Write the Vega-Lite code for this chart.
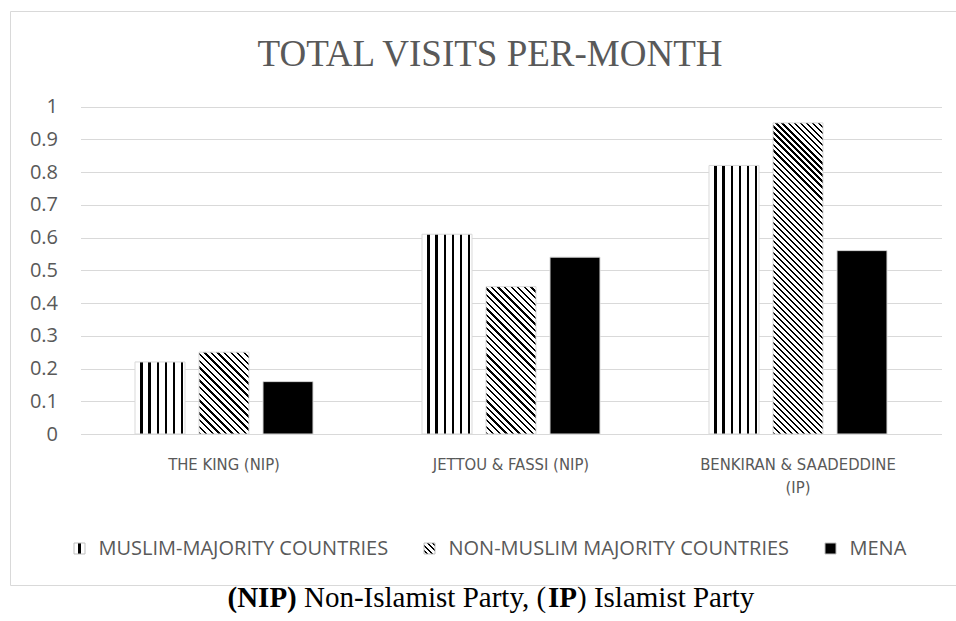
{
  "$schema": "https://vega.github.io/schema/vega-lite/v6.json",
  "background": "white",
  "padding": {"left": 9, "top": 10, "right": 0, "bottom": 0},
  "config": {"font": "Open Sans", "concat": {"spacing": 0}},
  "title": {"text": ") Islamist Party", "orient": "bottom", "anchor": "start", "frame": "group", "font": "Liberation Serif", "fontSize": 29, "fontWeight": "normal", "color": "#000000", "baseline": "top", "offset": 0, "dx": 567, "dy": -29},
  "vconcat": [
    {
      "title": {"text": "IP", "orient": "bottom", "anchor": "start", "frame": "group", "font": "Liberation Serif", "fontSize": 29, "fontWeight": "bold", "color": "#000000", "baseline": "top", "offset": 0, "dx": 538, "dy": -29},
      "vconcat": [
        {
          "title": {"text": "Non-Islamist Party, (", "orient": "bottom", "anchor": "start", "frame": "group", "font": "Liberation Serif", "fontSize": 29, "fontWeight": "normal", "color": "#000000", "baseline": "top", "offset": 0, "dx": 294, "dy": -29},
          "vconcat": [
            {
              "title": {"text": "(NIP)", "orient": "bottom", "anchor": "start", "frame": "group", "font": "Liberation Serif", "fontSize": 29, "fontWeight": "bold", "color": "#000000", "baseline": "top", "offset": -2, "dx": 217.5, "dy": 0},
              "vconcat": [
                {
                  "width": 960,
                  "height": 574,
                  "view": {"stroke": "#d9d9d9", "strokeWidth": 1},
                  "title": {"text": "TOTAL VISITS PER-MONTH", "orient": "top", "anchor": "middle", "frame": "group", "font": "Liberation Serif", "fontSize": 37, "fontWeight": "normal", "color": "#595959", "baseline": "alphabetic", "offset": -91.5},
                  "data": {
                    "values": [
                      {"leader": "THE KING (NIP)", "series": "MUSLIM-MAJORITY COUNTRIES", "value": 0.22},
                      {"leader": "THE KING (NIP)", "series": "NON-MUSLIM MAJORITY COUNTRIES", "value": 0.25},
                      {"leader": "THE KING (NIP)", "series": "MENA", "value": 0.16},
                      {"leader": "JETTOU & FASSI (NIP)", "series": "MUSLIM-MAJORITY COUNTRIES", "value": 0.61},
                      {"leader": "JETTOU & FASSI (NIP)", "series": "NON-MUSLIM MAJORITY COUNTRIES", "value": 0.45},
                      {"leader": "JETTOU & FASSI (NIP)", "series": "MENA", "value": 0.54},
                      {"leader": "BENKIRAN & SAADEDDINE (IP)", "series": "MUSLIM-MAJORITY COUNTRIES", "value": 0.82},
                      {"leader": "BENKIRAN & SAADEDDINE (IP)", "series": "NON-MUSLIM MAJORITY COUNTRIES", "value": 0.95},
                      {"leader": "BENKIRAN & SAADEDDINE (IP)", "series": "MENA", "value": 0.56}
                    ]
                  },
                  "mark": {"type": "bar", "stroke": "#d9d9d9", "strokeWidth": 1},
                  "encoding": {
                    "x": {
                      "field": "leader", "type": "nominal", "sort": null,
                      "scale": {"range": [70.5, 931.5], "paddingInner": 0, "paddingOuter": 0},
                      "axis": {
                        "orient": "bottom", "offset": -151, "domain": false, "ticks": false, "tickSize": 0, "grid": false,
                        "labelPadding": 22, "labelAngle": 0, "labelLimit": 0,
                        "labelFont": "Liberation Sans Narrow, DejaVu Sans Condensed, Open Sans",
                        "labelFontSize": 16.5, "labelColor": "#595959", "labelLineHeight": 23,
                        "labelExpr": "datum.value === 'BENKIRAN & SAADEDDINE (IP)' ? ['BENKIRAN & SAADEDDINE', '(IP)'] : datum.label",
                        "title": null
                      }
                    },
                    "xOffset": {
                      "field": "series", "type": "nominal",
                      "sort": ["MUSLIM-MAJORITY COUNTRIES", "NON-MUSLIM MAJORITY COUNTRIES", "MENA"],
                      "scale": {"paddingInner": 0.21875, "paddingOuter": 0.8516}
                    },
                    "y": {
                      "field": "value", "type": "quantitative",
                      "scale": {"domain": [0, 1], "range": [423, 95.5], "nice": false, "zero": true},
                      "axis": {
                        "orient": "left", "offset": -47.5, "domain": false, "ticks": false, "tickSize": 0,
                        "values": [0, 0.1, 0.2, 0.3, 0.4, 0.5, 0.6, 0.7, 0.8, 0.9, 1],
                        "format": ".1~f", "labelPadding": 0,
                        "labelFont": "Open Sans", "labelFontSize": 20, "labelColor": "#595959",
                        "grid": true, "gridColor": "#d9d9d9", "gridWidth": 1,
                        "title": null
                      }
                    },
                    "fill": {
                      "field": "series", "type": "nominal",
                      "scale": {
                        "domain": ["MUSLIM-MAJORITY COUNTRIES", "NON-MUSLIM MAJORITY COUNTRIES", "MENA"],
                        "range": [
                          {"expr": "{gradient: 'linear', x1: 0, y1: 0, x2: 1, y2: 0, stops: [{offset: 0, color: '#fff'}, {offset: 0.38, color: '#fff'}, {offset: 0.38, color: '#000'}, {offset: 0.6, color: '#000'}, {offset: 0.6, color: '#fff'}, {offset: 1, color: '#fff'}]}"},
                          {"expr": "{gradient: 'linear', x1: 0, y1: 1, x2: 1, y2: 0, stops: [{offset: 0.1, color: '#fff'}, {offset: 0.1, color: '#000'}, {offset: 0.19, color: '#000'}, {offset: 0.19, color: '#fff'}, {offset: 0.35, color: '#fff'}, {offset: 0.35, color: '#000'}, {offset: 0.44, color: '#000'}, {offset: 0.44, color: '#fff'}, {offset: 0.6, color: '#fff'}, {offset: 0.6, color: '#000'}, {offset: 0.69, color: '#000'}, {offset: 0.69, color: '#fff'}, {offset: 0.85, color: '#fff'}, {offset: 0.85, color: '#000'}, {offset: 0.94, color: '#000'}, {offset: 0.94, color: '#fff'}]}"},
                          "#000000"
                        ]
                      },
                      "legend": {
                        "orient": "none", "legendX": 59.5, "legendY": 527.5, "direction": "horizontal", "columns": 3,
                        "title": null, "symbolType": "square", "symbolSize": 121,
                        "symbolStrokeColor": "#bfbfbf", "symbolStrokeWidth": 1,
                        "labelFont": "Open Sans", "labelFontSize": 20, "labelColor": "#595959", "labelLimit": 0,
                        "labelOffset": 9, "columnPadding": 31
                      },
                      "condition": [
                        {"test": "datum.series === 'MUSLIM-MAJORITY COUNTRIES'", "value": {"gradient": "linear", "x1": 0, "y1": 0, "x2": 1, "y2": 0, "stops": [
                          {"offset": 0, "color": "#fff"},
                          {"offset": 0.106, "color": "#fff"}, {"offset": 0.106, "color": "#000"}, {"offset": 0.15, "color": "#000"}, {"offset": 0.15, "color": "#fff"},
                          {"offset": 0.268, "color": "#fff"}, {"offset": 0.268, "color": "#000"}, {"offset": 0.312, "color": "#000"}, {"offset": 0.312, "color": "#fff"},
                          {"offset": 0.43, "color": "#fff"}, {"offset": 0.43, "color": "#000"}, {"offset": 0.474, "color": "#000"}, {"offset": 0.474, "color": "#fff"},
                          {"offset": 0.592, "color": "#fff"}, {"offset": 0.592, "color": "#000"}, {"offset": 0.636, "color": "#000"}, {"offset": 0.636, "color": "#fff"},
                          {"offset": 0.754, "color": "#fff"}, {"offset": 0.754, "color": "#000"}, {"offset": 0.798, "color": "#000"}, {"offset": 0.798, "color": "#fff"},
                          {"offset": 0.916, "color": "#fff"}, {"offset": 0.916, "color": "#000"}, {"offset": 0.96, "color": "#000"}, {"offset": 0.96, "color": "#fff"},
                          {"offset": 1, "color": "#fff"}
                        ]}},
                        {"test": "datum.series === 'NON-MUSLIM MAJORITY COUNTRIES' && datum.leader === 'THE KING (NIP)'", "value": {"gradient": "linear", "x1": 0, "y1": 1, "x2": 0.71644, "y2": -0.17317, "stops": [
                          {"offset": 0, "color": "#000"}, {"offset": 0.0175, "color": "#000"}, {"offset": 0.0175, "color": "#fff"},
                          {"offset": 0.05, "color": "#fff"}, {"offset": 0.05, "color": "#000"}, {"offset": 0.0675, "color": "#000"}, {"offset": 0.0675, "color": "#fff"},
                          {"offset": 0.1, "color": "#fff"}, {"offset": 0.1, "color": "#000"}, {"offset": 0.1175, "color": "#000"}, {"offset": 0.1175, "color": "#fff"},
                          {"offset": 0.15, "color": "#fff"}, {"offset": 0.15, "color": "#000"}, {"offset": 0.1675, "color": "#000"}, {"offset": 0.1675, "color": "#fff"},
                          {"offset": 0.2, "color": "#fff"}, {"offset": 0.2, "color": "#000"}, {"offset": 0.2175, "color": "#000"}, {"offset": 0.2175, "color": "#fff"},
                          {"offset": 0.25, "color": "#fff"}, {"offset": 0.25, "color": "#000"}, {"offset": 0.2675, "color": "#000"}, {"offset": 0.2675, "color": "#fff"},
                          {"offset": 0.3, "color": "#fff"}, {"offset": 0.3, "color": "#000"}, {"offset": 0.3175, "color": "#000"}, {"offset": 0.3175, "color": "#fff"},
                          {"offset": 0.35, "color": "#fff"}, {"offset": 0.35, "color": "#000"}, {"offset": 0.3675, "color": "#000"}, {"offset": 0.3675, "color": "#fff"},
                          {"offset": 0.4, "color": "#fff"}, {"offset": 0.4, "color": "#000"}, {"offset": 0.4175, "color": "#000"}, {"offset": 0.4175, "color": "#fff"},
                          {"offset": 0.45, "color": "#fff"}, {"offset": 0.45, "color": "#000"}, {"offset": 0.4675, "color": "#000"}, {"offset": 0.4675, "color": "#fff"},
                          {"offset": 0.5, "color": "#fff"}, {"offset": 0.5, "color": "#000"}, {"offset": 0.5175, "color": "#000"}, {"offset": 0.5175, "color": "#fff"},
                          {"offset": 0.55, "color": "#fff"}, {"offset": 0.55, "color": "#000"}, {"offset": 0.5675, "color": "#000"}, {"offset": 0.5675, "color": "#fff"},
                          {"offset": 0.6, "color": "#fff"}, {"offset": 0.6, "color": "#000"}, {"offset": 0.6175, "color": "#000"}, {"offset": 0.6175, "color": "#fff"},
                          {"offset": 0.65, "color": "#fff"}, {"offset": 0.65, "color": "#000"}, {"offset": 0.6675, "color": "#000"}, {"offset": 0.6675, "color": "#fff"},
                          {"offset": 0.7, "color": "#fff"}, {"offset": 0.7, "color": "#000"}, {"offset": 0.7175, "color": "#000"}, {"offset": 0.7175, "color": "#fff"},
                          {"offset": 0.75, "color": "#fff"}, {"offset": 0.75, "color": "#000"}, {"offset": 0.7675, "color": "#000"}, {"offset": 0.7675, "color": "#fff"},
                          {"offset": 0.8, "color": "#fff"}, {"offset": 0.8, "color": "#000"}, {"offset": 0.8175, "color": "#000"}, {"offset": 0.8175, "color": "#fff"},
                          {"offset": 0.85, "color": "#fff"}, {"offset": 0.85, "color": "#000"}, {"offset": 0.8675, "color": "#000"}, {"offset": 0.8675, "color": "#fff"},
                          {"offset": 0.9, "color": "#fff"}, {"offset": 0.9, "color": "#000"}, {"offset": 0.9175, "color": "#000"}, {"offset": 0.9175, "color": "#fff"},
                          {"offset": 0.95, "color": "#fff"}, {"offset": 0.95, "color": "#000"}, {"offset": 0.9675, "color": "#000"}, {"offset": 0.9675, "color": "#fff"},
                          {"offset": 1, "color": "#fff"}
                        ]}},
                        {"test": "datum.series === 'NON-MUSLIM MAJORITY COUNTRIES' && datum.leader === 'JETTOU & FASSI (NIP)'", "value": {"gradient": "linear", "x1": 0, "y1": 1, "x2": 0.40747, "y2": -0.20103, "stops": [
                          {"offset": 0, "color": "#000"}, {"offset": 0.0117, "color": "#000"}, {"offset": 0.0117, "color": "#fff"},
                          {"offset": 0.0333, "color": "#fff"}, {"offset": 0.0333, "color": "#000"}, {"offset": 0.045, "color": "#000"}, {"offset": 0.045, "color": "#fff"},
                          {"offset": 0.0667, "color": "#fff"}, {"offset": 0.0667, "color": "#000"}, {"offset": 0.0783, "color": "#000"}, {"offset": 0.0783, "color": "#fff"},
                          {"offset": 0.1, "color": "#fff"}, {"offset": 0.1, "color": "#000"}, {"offset": 0.1117, "color": "#000"}, {"offset": 0.1117, "color": "#fff"},
                          {"offset": 0.1333, "color": "#fff"}, {"offset": 0.1333, "color": "#000"}, {"offset": 0.145, "color": "#000"}, {"offset": 0.145, "color": "#fff"},
                          {"offset": 0.1667, "color": "#fff"}, {"offset": 0.1667, "color": "#000"}, {"offset": 0.1783, "color": "#000"}, {"offset": 0.1783, "color": "#fff"},
                          {"offset": 0.2, "color": "#fff"}, {"offset": 0.2, "color": "#000"}, {"offset": 0.2117, "color": "#000"}, {"offset": 0.2117, "color": "#fff"},
                          {"offset": 0.2333, "color": "#fff"}, {"offset": 0.2333, "color": "#000"}, {"offset": 0.245, "color": "#000"}, {"offset": 0.245, "color": "#fff"},
                          {"offset": 0.2667, "color": "#fff"}, {"offset": 0.2667, "color": "#000"}, {"offset": 0.2783, "color": "#000"}, {"offset": 0.2783, "color": "#fff"},
                          {"offset": 0.3, "color": "#fff"}, {"offset": 0.3, "color": "#000"}, {"offset": 0.3117, "color": "#000"}, {"offset": 0.3117, "color": "#fff"},
                          {"offset": 0.3333, "color": "#fff"}, {"offset": 0.3333, "color": "#000"}, {"offset": 0.345, "color": "#000"}, {"offset": 0.345, "color": "#fff"},
                          {"offset": 0.3667, "color": "#fff"}, {"offset": 0.3667, "color": "#000"}, {"offset": 0.3783, "color": "#000"}, {"offset": 0.3783, "color": "#fff"},
                          {"offset": 0.4, "color": "#fff"}, {"offset": 0.4, "color": "#000"}, {"offset": 0.4117, "color": "#000"}, {"offset": 0.4117, "color": "#fff"},
                          {"offset": 0.4333, "color": "#fff"}, {"offset": 0.4333, "color": "#000"}, {"offset": 0.445, "color": "#000"}, {"offset": 0.445, "color": "#fff"},
                          {"offset": 0.4667, "color": "#fff"}, {"offset": 0.4667, "color": "#000"}, {"offset": 0.4783, "color": "#000"}, {"offset": 0.4783, "color": "#fff"},
                          {"offset": 0.5, "color": "#fff"}, {"offset": 0.5, "color": "#000"}, {"offset": 0.5117, "color": "#000"}, {"offset": 0.5117, "color": "#fff"},
                          {"offset": 0.5333, "color": "#fff"}, {"offset": 0.5333, "color": "#000"}, {"offset": 0.545, "color": "#000"}, {"offset": 0.545, "color": "#fff"},
                          {"offset": 0.5667, "color": "#fff"}, {"offset": 0.5667, "color": "#000"}, {"offset": 0.5783, "color": "#000"}, {"offset": 0.5783, "color": "#fff"},
                          {"offset": 0.6, "color": "#fff"}, {"offset": 0.6, "color": "#000"}, {"offset": 0.6117, "color": "#000"}, {"offset": 0.6117, "color": "#fff"},
                          {"offset": 0.6333, "color": "#fff"}, {"offset": 0.6333, "color": "#000"}, {"offset": 0.645, "color": "#000"}, {"offset": 0.645, "color": "#fff"},
                          {"offset": 0.6667, "color": "#fff"}, {"offset": 0.6667, "color": "#000"}, {"offset": 0.6783, "color": "#000"}, {"offset": 0.6783, "color": "#fff"},
                          {"offset": 0.7, "color": "#fff"}, {"offset": 0.7, "color": "#000"}, {"offset": 0.7117, "color": "#000"}, {"offset": 0.7117, "color": "#fff"},
                          {"offset": 0.7333, "color": "#fff"}, {"offset": 0.7333, "color": "#000"}, {"offset": 0.745, "color": "#000"}, {"offset": 0.745, "color": "#fff"},
                          {"offset": 0.7667, "color": "#fff"}, {"offset": 0.7667, "color": "#000"}, {"offset": 0.7783, "color": "#000"}, {"offset": 0.7783, "color": "#fff"},
                          {"offset": 0.8, "color": "#fff"}, {"offset": 0.8, "color": "#000"}, {"offset": 0.8117, "color": "#000"}, {"offset": 0.8117, "color": "#fff"},
                          {"offset": 0.8333, "color": "#fff"}, {"offset": 0.8333, "color": "#000"}, {"offset": 0.845, "color": "#000"}, {"offset": 0.845, "color": "#fff"},
                          {"offset": 0.8667, "color": "#fff"}, {"offset": 0.8667, "color": "#000"}, {"offset": 0.8783, "color": "#000"}, {"offset": 0.8783, "color": "#fff"},
                          {"offset": 0.9, "color": "#fff"}, {"offset": 0.9, "color": "#000"}, {"offset": 0.9117, "color": "#000"}, {"offset": 0.9117, "color": "#fff"},
                          {"offset": 0.9333, "color": "#fff"}, {"offset": 0.9333, "color": "#000"}, {"offset": 0.945, "color": "#000"}, {"offset": 0.945, "color": "#fff"},
                          {"offset": 0.9667, "color": "#fff"}, {"offset": 0.9667, "color": "#000"}, {"offset": 0.9783, "color": "#000"}, {"offset": 0.9783, "color": "#fff"},
                          {"offset": 1, "color": "#fff"}
                        ]}},
                        {"test": "datum.series === 'NON-MUSLIM MAJORITY COUNTRIES' && datum.leader === 'BENKIRAN & SAADEDDINE (IP)'", "value": {"gradient": "linear", "x1": 0, "y1": 1, "x2": 0.18184, "y2": -0.13149, "stops": [
                          {"offset": 0, "color": "#000"}, {"offset": 0.0058, "color": "#000"}, {"offset": 0.0058, "color": "#fff"},
                          {"offset": 0.0167, "color": "#fff"}, {"offset": 0.0167, "color": "#000"}, {"offset": 0.0225, "color": "#000"}, {"offset": 0.0225, "color": "#fff"},
                          {"offset": 0.0333, "color": "#fff"}, {"offset": 0.0333, "color": "#000"}, {"offset": 0.0392, "color": "#000"}, {"offset": 0.0392, "color": "#fff"},
                          {"offset": 0.05, "color": "#fff"}, {"offset": 0.05, "color": "#000"}, {"offset": 0.0558, "color": "#000"}, {"offset": 0.0558, "color": "#fff"},
                          {"offset": 0.0667, "color": "#fff"}, {"offset": 0.0667, "color": "#000"}, {"offset": 0.0725, "color": "#000"}, {"offset": 0.0725, "color": "#fff"},
                          {"offset": 0.0833, "color": "#fff"}, {"offset": 0.0833, "color": "#000"}, {"offset": 0.0892, "color": "#000"}, {"offset": 0.0892, "color": "#fff"},
                          {"offset": 0.1, "color": "#fff"}, {"offset": 0.1, "color": "#000"}, {"offset": 0.1058, "color": "#000"}, {"offset": 0.1058, "color": "#fff"},
                          {"offset": 0.1167, "color": "#fff"}, {"offset": 0.1167, "color": "#000"}, {"offset": 0.1225, "color": "#000"}, {"offset": 0.1225, "color": "#fff"},
                          {"offset": 0.1333, "color": "#fff"}, {"offset": 0.1333, "color": "#000"}, {"offset": 0.1392, "color": "#000"}, {"offset": 0.1392, "color": "#fff"},
                          {"offset": 0.15, "color": "#fff"}, {"offset": 0.15, "color": "#000"}, {"offset": 0.1558, "color": "#000"}, {"offset": 0.1558, "color": "#fff"},
                          {"offset": 0.1667, "color": "#fff"}, {"offset": 0.1667, "color": "#000"}, {"offset": 0.1725, "color": "#000"}, {"offset": 0.1725, "color": "#fff"},
                          {"offset": 0.1833, "color": "#fff"}, {"offset": 0.1833, "color": "#000"}, {"offset": 0.1892, "color": "#000"}, {"offset": 0.1892, "color": "#fff"},
                          {"offset": 0.2, "color": "#fff"}, {"offset": 0.2, "color": "#000"}, {"offset": 0.2058, "color": "#000"}, {"offset": 0.2058, "color": "#fff"},
                          {"offset": 0.2167, "color": "#fff"}, {"offset": 0.2167, "color": "#000"}, {"offset": 0.2225, "color": "#000"}, {"offset": 0.2225, "color": "#fff"},
                          {"offset": 0.2333, "color": "#fff"}, {"offset": 0.2333, "color": "#000"}, {"offset": 0.2392, "color": "#000"}, {"offset": 0.2392, "color": "#fff"},
                          {"offset": 0.25, "color": "#fff"}, {"offset": 0.25, "color": "#000"}, {"offset": 0.2558, "color": "#000"}, {"offset": 0.2558, "color": "#fff"},
                          {"offset": 0.2667, "color": "#fff"}, {"offset": 0.2667, "color": "#000"}, {"offset": 0.2725, "color": "#000"}, {"offset": 0.2725, "color": "#fff"},
                          {"offset": 0.2833, "color": "#fff"}, {"offset": 0.2833, "color": "#000"}, {"offset": 0.2892, "color": "#000"}, {"offset": 0.2892, "color": "#fff"},
                          {"offset": 0.3, "color": "#fff"}, {"offset": 0.3, "color": "#000"}, {"offset": 0.3058, "color": "#000"}, {"offset": 0.3058, "color": "#fff"},
                          {"offset": 0.3167, "color": "#fff"}, {"offset": 0.3167, "color": "#000"}, {"offset": 0.3225, "color": "#000"}, {"offset": 0.3225, "color": "#fff"},
                          {"offset": 0.3333, "color": "#fff"}, {"offset": 0.3333, "color": "#000"}, {"offset": 0.3392, "color": "#000"}, {"offset": 0.3392, "color": "#fff"},
                          {"offset": 0.35, "color": "#fff"}, {"offset": 0.35, "color": "#000"}, {"offset": 0.3558, "color": "#000"}, {"offset": 0.3558, "color": "#fff"},
                          {"offset": 0.3667, "color": "#fff"}, {"offset": 0.3667, "color": "#000"}, {"offset": 0.3725, "color": "#000"}, {"offset": 0.3725, "color": "#fff"},
                          {"offset": 0.3833, "color": "#fff"}, {"offset": 0.3833, "color": "#000"}, {"offset": 0.3892, "color": "#000"}, {"offset": 0.3892, "color": "#fff"},
                          {"offset": 0.4, "color": "#fff"}, {"offset": 0.4, "color": "#000"}, {"offset": 0.4058, "color": "#000"}, {"offset": 0.4058, "color": "#fff"},
                          {"offset": 0.4167, "color": "#fff"}, {"offset": 0.4167, "color": "#000"}, {"offset": 0.4225, "color": "#000"}, {"offset": 0.4225, "color": "#fff"},
                          {"offset": 0.4333, "color": "#fff"}, {"offset": 0.4333, "color": "#000"}, {"offset": 0.4392, "color": "#000"}, {"offset": 0.4392, "color": "#fff"},
                          {"offset": 0.45, "color": "#fff"}, {"offset": 0.45, "color": "#000"}, {"offset": 0.4558, "color": "#000"}, {"offset": 0.4558, "color": "#fff"},
                          {"offset": 0.4667, "color": "#fff"}, {"offset": 0.4667, "color": "#000"}, {"offset": 0.4725, "color": "#000"}, {"offset": 0.4725, "color": "#fff"},
                          {"offset": 0.4833, "color": "#fff"}, {"offset": 0.4833, "color": "#000"}, {"offset": 0.4892, "color": "#000"}, {"offset": 0.4892, "color": "#fff"},
                          {"offset": 0.5, "color": "#fff"}, {"offset": 0.5, "color": "#000"}, {"offset": 0.5058, "color": "#000"}, {"offset": 0.5058, "color": "#fff"},
                          {"offset": 0.5167, "color": "#fff"}, {"offset": 0.5167, "color": "#000"}, {"offset": 0.5225, "color": "#000"}, {"offset": 0.5225, "color": "#fff"},
                          {"offset": 0.5333, "color": "#fff"}, {"offset": 0.5333, "color": "#000"}, {"offset": 0.5392, "color": "#000"}, {"offset": 0.5392, "color": "#fff"},
                          {"offset": 0.55, "color": "#fff"}, {"offset": 0.55, "color": "#000"}, {"offset": 0.5558, "color": "#000"}, {"offset": 0.5558, "color": "#fff"},
                          {"offset": 0.5667, "color": "#fff"}, {"offset": 0.5667, "color": "#000"}, {"offset": 0.5725, "color": "#000"}, {"offset": 0.5725, "color": "#fff"},
                          {"offset": 0.5833, "color": "#fff"}, {"offset": 0.5833, "color": "#000"}, {"offset": 0.5892, "color": "#000"}, {"offset": 0.5892, "color": "#fff"},
                          {"offset": 0.6, "color": "#fff"}, {"offset": 0.6, "color": "#000"}, {"offset": 0.6058, "color": "#000"}, {"offset": 0.6058, "color": "#fff"},
                          {"offset": 0.6167, "color": "#fff"}, {"offset": 0.6167, "color": "#000"}, {"offset": 0.6225, "color": "#000"}, {"offset": 0.6225, "color": "#fff"},
                          {"offset": 0.6333, "color": "#fff"}, {"offset": 0.6333, "color": "#000"}, {"offset": 0.6392, "color": "#000"}, {"offset": 0.6392, "color": "#fff"},
                          {"offset": 0.65, "color": "#fff"}, {"offset": 0.65, "color": "#000"}, {"offset": 0.6558, "color": "#000"}, {"offset": 0.6558, "color": "#fff"},
                          {"offset": 0.6667, "color": "#fff"}, {"offset": 0.6667, "color": "#000"}, {"offset": 0.6725, "color": "#000"}, {"offset": 0.6725, "color": "#fff"},
                          {"offset": 0.6833, "color": "#fff"}, {"offset": 0.6833, "color": "#000"}, {"offset": 0.6892, "color": "#000"}, {"offset": 0.6892, "color": "#fff"},
                          {"offset": 0.7, "color": "#fff"}, {"offset": 0.7, "color": "#000"}, {"offset": 0.7058, "color": "#000"}, {"offset": 0.7058, "color": "#fff"},
                          {"offset": 0.7167, "color": "#fff"}, {"offset": 0.7167, "color": "#000"}, {"offset": 0.7225, "color": "#000"}, {"offset": 0.7225, "color": "#fff"},
                          {"offset": 0.7333, "color": "#fff"}, {"offset": 0.7333, "color": "#000"}, {"offset": 0.7392, "color": "#000"}, {"offset": 0.7392, "color": "#fff"},
                          {"offset": 0.75, "color": "#fff"}, {"offset": 0.75, "color": "#000"}, {"offset": 0.7558, "color": "#000"}, {"offset": 0.7558, "color": "#fff"},
                          {"offset": 0.7667, "color": "#fff"}, {"offset": 0.7667, "color": "#000"}, {"offset": 0.7725, "color": "#000"}, {"offset": 0.7725, "color": "#fff"},
                          {"offset": 0.7833, "color": "#fff"}, {"offset": 0.7833, "color": "#000"}, {"offset": 0.7892, "color": "#000"}, {"offset": 0.7892, "color": "#fff"},
                          {"offset": 0.8, "color": "#fff"}, {"offset": 0.8, "color": "#000"}, {"offset": 0.8058, "color": "#000"}, {"offset": 0.8058, "color": "#fff"},
                          {"offset": 0.8167, "color": "#fff"}, {"offset": 0.8167, "color": "#000"}, {"offset": 0.8225, "color": "#000"}, {"offset": 0.8225, "color": "#fff"},
                          {"offset": 0.8333, "color": "#fff"}, {"offset": 0.8333, "color": "#000"}, {"offset": 0.8392, "color": "#000"}, {"offset": 0.8392, "color": "#fff"},
                          {"offset": 0.85, "color": "#fff"}, {"offset": 0.85, "color": "#000"}, {"offset": 0.8558, "color": "#000"}, {"offset": 0.8558, "color": "#fff"},
                          {"offset": 0.8667, "color": "#fff"}, {"offset": 0.8667, "color": "#000"}, {"offset": 0.8725, "color": "#000"}, {"offset": 0.8725, "color": "#fff"},
                          {"offset": 0.8833, "color": "#fff"}, {"offset": 0.8833, "color": "#000"}, {"offset": 0.8892, "color": "#000"}, {"offset": 0.8892, "color": "#fff"},
                          {"offset": 0.9, "color": "#fff"}, {"offset": 0.9, "color": "#000"}, {"offset": 0.9058, "color": "#000"}, {"offset": 0.9058, "color": "#fff"},
                          {"offset": 0.9167, "color": "#fff"}, {"offset": 0.9167, "color": "#000"}, {"offset": 0.9225, "color": "#000"}, {"offset": 0.9225, "color": "#fff"},
                          {"offset": 0.9333, "color": "#fff"}, {"offset": 0.9333, "color": "#000"}, {"offset": 0.9392, "color": "#000"}, {"offset": 0.9392, "color": "#fff"},
                          {"offset": 0.95, "color": "#fff"}, {"offset": 0.95, "color": "#000"}, {"offset": 0.9558, "color": "#000"}, {"offset": 0.9558, "color": "#fff"},
                          {"offset": 0.9667, "color": "#fff"}, {"offset": 0.9667, "color": "#000"}, {"offset": 0.9725, "color": "#000"}, {"offset": 0.9725, "color": "#fff"},
                          {"offset": 0.9833, "color": "#fff"}, {"offset": 0.9833, "color": "#000"}, {"offset": 0.9892, "color": "#000"}, {"offset": 0.9892, "color": "#fff"},
                          {"offset": 1, "color": "#fff"}
                        ]}}
                      ]
                    }
                  }
                }
              ]
            }
          ]
        }
      ]
    }
  ]
}
